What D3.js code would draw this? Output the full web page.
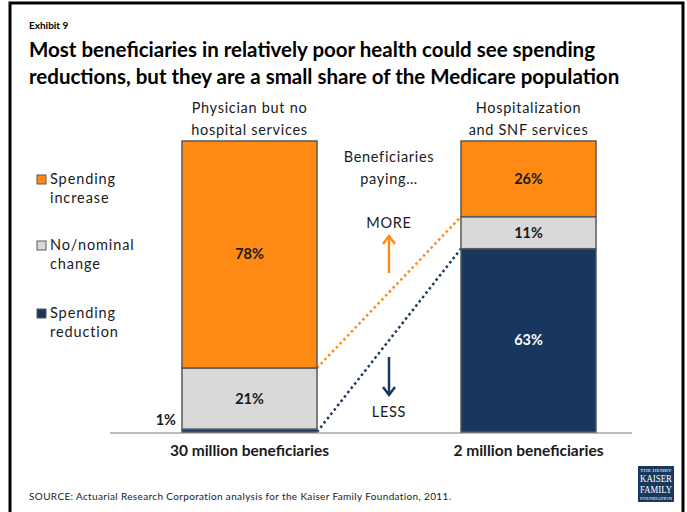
<!DOCTYPE html>
<html>
<head>
<meta charset="utf-8">
<script src="https://cdn.jsdelivr.net/npm/d3@7"></script>
<style>
  html, body { margin: 0; padding: 0; background: #fff; }
  svg { display: block; }
</style>
</head>
<body>
<div id="chart"></div>
<script>
// Chart data
const categories = ["Physician but no hospital services", "Hospitalization and SNF services"];
const categoryLines = [["Physician but no", "hospital services"], ["Hospitalization", "and SNF services"]];
const bottomLabels = ["30 million beneficiaries", "2 million beneficiaries"];
const seriesNames = ["Spending reduction", "No/nominal change", "Spending increase"];
const reduction = [1, 63];
const nominal = [21, 11];
const increase = [78, 26];

const W = 687, H = 512;
const font = "Lato, 'Open Sans', sans-serif";
const colors = {
  "Spending increase": "#FF8A14",
  "No/nominal change": "#D9D9D9",
  "Spending reduction": "#17375E"
};
const textColor = "#1a1a1a";

const svg = d3.select("#chart").append("svg")
  .attr("width", W).attr("height", H)
  .style("font-family", font);

svg.append("rect").attr("width", W).attr("height", H).attr("fill", "#fff");

// frame
svg.append("rect")
  .attr("x", 10).attr("y", 3).attr("width", 673).attr("height", 530)
  .attr("fill", "none").attr("stroke", "#000").attr("stroke-width", 3);

// titles
svg.append("text").attr("x", 29).attr("y", 29)
  .attr("font-size", 10).attr("font-weight", 700).attr("fill", "#000")
  .text("Exhibit 9");
[["Most beneficiaries in relatively poor health could see spending", 57],
 ["reductions, but they are a small share of the Medicare population", 84]]
  .forEach(([t, y]) => {
    svg.append("text").attr("x", 29).attr("y", y)
      .attr("font-size", 20.5).attr("font-weight", 700).attr("fill", "#000")
      .text(t);
  });

// scales
const x = d3.scaleBand()
  .domain(categories)
  .range([110, 668])
  .paddingInner(0.516)
  .paddingOuter(0.258);

const y = d3.scaleLinear().domain([0, 100]).range([432, 141]);

const table = categories.map((c, i) => ({
  category: c,
  "Spending reduction": reduction[i],
  "No/nominal change": nominal[i],
  "Spending increase": increase[i]
}));
const stacked = d3.stack().keys(seriesNames)(table);

// connectors between bars (drawn first)
const c0 = categories[0], c1 = categories[1];
const leftEdge = x(c0) + x.bandwidth();
const rightEdge = x(c1);
svg.append("line")
  .attr("x1", leftEdge).attr("y1", y(reduction[0] + nominal[0]))
  .attr("x2", rightEdge).attr("y2", y(reduction[1] + nominal[1]))
  .attr("stroke", colors["Spending increase"]).attr("stroke-width", 2.5)
  .attr("stroke-dasharray", "2.5,3");
svg.append("line")
  .attr("x1", leftEdge).attr("y1", y(0))
  .attr("x2", rightEdge).attr("y2", y(reduction[1]))
  .attr("stroke", colors["Spending reduction"]).attr("stroke-width", 2.5)
  .attr("stroke-dasharray", "2.5,3");

// axis baseline
svg.append("line")
  .attr("x1", 110).attr("x2", 632)
  .attr("y1", y(0) + 1).attr("y2", y(0) + 1)
  .attr("stroke", "#A6A6A6").attr("stroke-width", 1.5);

// bars
const layers = svg.append("g").selectAll("g")
  .data(stacked).join("g")
  .attr("fill", d => colors[d.key]);

layers.selectAll("rect")
  .data(d => d.map(v => ({ key: d.key, v })))
  .join("rect")
  .attr("x", d => x(d.v.data.category))
  .attr("y", d => y(d.v[1]))
  .attr("width", x.bandwidth())
  .attr("height", d => y(d.v[0]) - y(d.v[1]))
  .attr("stroke", "#595959")
  .attr("stroke-width", 1.5);

// value labels
stacked.forEach(layer => {
  layer.forEach(v => {
    const val = v[1] - v[0];
    const cx = x(v.data.category) + x.bandwidth() / 2;
    if (val < 5) {
      svg.append("text")
        .attr("x", x(v.data.category) - 6)
        .attr("y", y(v[1]) - 4)
        .attr("text-anchor", "end")
        .attr("font-size", 14.5).attr("font-weight", 700).attr("fill", textColor)
        .text(val + "%");
    } else {
      svg.append("text")
        .attr("x", cx)
        .attr("y", y((v[0] + v[1]) / 2) + 5)
        .attr("text-anchor", "middle")
        .attr("font-size", 14.5).attr("font-weight", 700)
        .attr("fill", layer.key === "Spending reduction" ? "#fff" : textColor)
        .text(val + "%");
    }
  });
});

// category labels above bars
categories.forEach((c, i) => {
  const cx = x(c) + x.bandwidth() / 2;
  categoryLines[i].forEach((t, j) => {
    svg.append("text").attr("x", cx).attr("y", 113 + j * 22)
      .attr("text-anchor", "middle").attr("font-size", 14.5)
      .attr("letter-spacing", 0.7)
      .attr("fill", textColor).text(t);
  });
  svg.append("text").attr("x", cx).attr("y", 456)
    .attr("text-anchor", "middle").attr("font-size", 15.5)
    .attr("font-weight", 700).attr("fill", textColor)
    .text(bottomLabels[i]);
});

// middle annotation
const mx = (leftEdge + rightEdge) / 2;
const mid = (t, yy) => svg.append("text").attr("x", mx).attr("y", yy)
  .attr("text-anchor", "middle").attr("font-size", 14.5)
  .attr("letter-spacing", 0.7).attr("fill", textColor).text(t);
mid("Beneficiaries", 162);
mid("paying…", 184);
mid("MORE", 228);
mid("LESS", 417);

function arrow(x0, yTail, yHead, color) {
  const dir = yHead < yTail ? -1 : 1;
  svg.append("line").attr("x1", x0).attr("x2", x0)
    .attr("y1", yTail).attr("y2", yHead - dir * 2)
    .attr("stroke", color).attr("stroke-width", 2.5);
  svg.append("path")
    .attr("d", `M${x0 - 6},${yHead - dir * 8} L${x0},${yHead} L${x0 + 6},${yHead - dir * 8}`)
    .attr("fill", "none").attr("stroke", color).attr("stroke-width", 2.5)
    .attr("stroke-linejoin", "miter");
}
arrow(mx, 273, 236, colors["Spending increase"]);
arrow(mx, 357, 395, colors["Spending reduction"]);

// legend
const legendItems = [
  ["Spending increase", ["Spending", "increase"], 181],
  ["No/nominal change", ["No/nominal", "change"], 247],
  ["Spending reduction", ["Spending", "reduction"], 315]
];
legendItems.forEach(([key, lines, ly]) => {
  svg.append("rect").attr("x", 37).attr("y", ly - 6).attr("width", 9).attr("height", 9)
    .attr("fill", colors[key]).attr("stroke", "#595959").attr("stroke-width", 1);
  lines.forEach((t, j) => {
    svg.append("text").attr("x", 50).attr("y", ly + 3 + j * 19)
      .attr("font-size", 14.5).attr("letter-spacing", 0.9)
      .attr("fill", textColor).text(t);
  });
});

// source
svg.append("text").attr("x", 29).attr("y", 500)
  .attr("font-size", 10).attr("letter-spacing", 0.35).attr("fill", textColor)
  .text("SOURCE: Actuarial Research Corporation analysis for the Kaiser Family Foundation, 2011.");

// logo
const logo = svg.append("g").attr("transform", "translate(638,466)");
logo.append("rect").attr("width", 36).attr("height", 36).attr("fill", "#17375E");
[["THE HENRY", 6, 4], ["KAISER", 16, 10], ["FAMILY", 27, 10], ["FOUNDATION", 34, 4]]
  .forEach(([t, yy, fs]) => {
    logo.append("text").attr("x", 18).attr("y", yy).attr("text-anchor", "middle")
      .attr("font-family", "'Liberation Serif', serif").attr("font-size", fs)
      .attr("fill", "#fff").attr("textLength", 32).attr("lengthAdjust", "spacingAndGlyphs")
      .text(t);
  });
</script>
</body>
</html>
